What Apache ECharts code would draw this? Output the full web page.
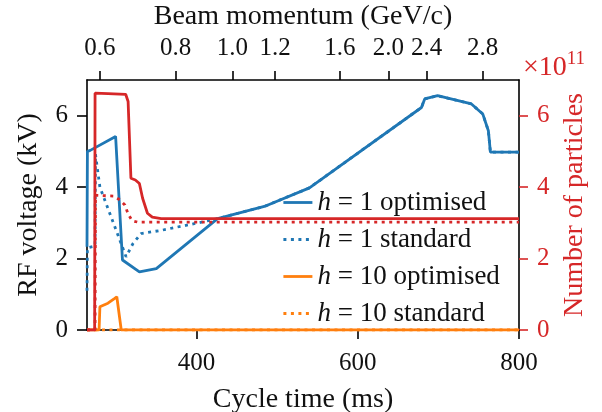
<!DOCTYPE html>
<html>
<head>
<meta charset="utf-8">
<script src="https://cdn.jsdelivr.net/npm/echarts@6/dist/echarts.min.js"></script>
<style>html,body{margin:0;padding:0;background:#fff}#c{width:602px;height:412px}</style>
</head>
<body>
<div id="c"></div>
<script>
// ---------- data ----------
const timeTicks = [400, 600, 800];
const kvTicks = [0, 2, 4, 6];
const particleTicks = [0, 2, 4, 6];
const momentumLabels = ['0.6', '0.8', '1.0', '1.2', '1.6', '2.0', '2.4', '2.8'];
const momentumTickTimes = [280.1, 374.1, 444.3, 497.3, 577.9, 637.8, 685.5, 755.0];

// h = 1 optimised (kV)
const h1OptTime = [264, 264.5, 268, 299.5, 308, 329, 350, 426, 484, 540, 679, 683, 699, 741, 755, 762, 764.5, 800];
const h1OptKv   = [2.33, 5.0, 5.03, 5.42, 1.96, 1.63, 1.72, 3.12, 3.46, 3.98, 6.23, 6.47, 6.56, 6.33, 6.05, 5.58, 4.98, 4.98];
// h = 1 standard (kV)
const h1StdTime = [264, 264.5, 274, 274.5, 280, 312.5, 321, 331, 356, 406, 426, 484, 540, 679, 683, 699, 741, 755, 762, 764.5, 800];
const h1StdKv   = [1.1, 2.3, 2.35, 4.92, 4.0, 2.05, 2.42, 2.7, 2.79, 3.02, 3.12, 3.46, 3.98, 6.23, 6.47, 6.56, 6.33, 6.05, 5.58, 4.98, 4.98];
// h = 10 optimised (kV)
const h10OptTime = [264, 279, 280, 290, 298, 301, 306.5, 800];
const h10OptKv   = [0, 0, 0.65, 0.75, 0.88, 0.93, 0, 0];
// h = 10 standard (kV)
const h10StdTime = [264, 800];
const h10StdKv   = [0, 0];
// number of particles, optimised (x1e11)
const npOptTime = [264, 273.5, 274, 290, 312, 315, 318.5, 324, 329, 333, 339, 345, 356, 800];
const npOptE11  = [0, 0, 6.63, 6.62, 6.6, 6.4, 4.25, 4.2, 4.1, 3.69, 3.27, 3.16, 3.12, 3.12];
// number of particles, standard (x1e11)
const npStdTime = [264, 274, 274.5, 297, 305, 311, 315, 320, 327, 800];
const npStdE11  = [0, 0, 3.77, 3.75, 3.64, 3.5, 3.25, 3.06, 3.02, 3.02];

// ---------- chart ----------
const zip = (a, b) => a.map((v, i) => [v, b[i]]);
const FONT = 'Liberation Serif';
const BLUE = '#1f77b4', ORANGE = '#ff7f0e', RED = '#d62728', TXT = '#111';
const DOT = [3, 4.5];
const LW = 2.8;

const chart = echarts.init(document.getElementById('c'), null, {renderer: 'canvas'});
const legendNames = ['h = 1 optimised', 'h = 1 standard', 'h = 10 optimised', 'h = 10 standard'];

function line(name, data, color, dotted, yIdx) {
  return {
    name, type: 'line', data, yAxisIndex: yIdx, xAxisIndex: 0,
    showSymbol: false, symbol: 'none', animation: false,
    lineStyle: {color, width: LW, type: dotted ? DOT : 'solid', cap: 'butt'},
    itemStyle: {color}
  };
}

chart.setOption({
  animation: false,
  grid: {left: 87, right: 83, top: 80, bottom: 82, containLabel: false, outerBoundsMode: 'none'},
  legend: {
    data: legendNames,
    orient: 'vertical', left: 282, top: 189, padding: 0,
    itemWidth: 29, itemHeight: 14, itemGap: 10,
    itemStyle: {opacity: 0},
    lineStyle: {width: LW},
    textStyle: {fontFamily: FONT, fontSize: 27, color: TXT, lineHeight: 27,
      rich: {i: {fontFamily: FONT, fontStyle: 'italic', fontSize: 27, color: TXT}}},
    formatter: n => '{i|h}' + n.slice(1),
    selectedMode: false
  },
  xAxis: [
    {
      type: 'value', position: 'bottom', min: 264, max: 800,
      axisLine: {onZero: false, lineStyle: {color: '#000', width: 1.6}},
      axisTick: {customValues: timeTicks, length: 9, lineStyle: {color: '#000', width: 1.6}},
      axisLabel: {customValues: timeTicks, fontFamily: FONT, fontSize: 25, color: TXT, margin: 21},
      splitLine: {show: false},
      name: 'Cycle time (ms)', nameLocation: 'middle', nameGap: 56,
      nameTextStyle: {fontFamily: FONT, fontSize: 28, color: TXT}
    },
    {
      type: 'value', position: 'top', min: 264, max: 800,
      axisLine: {onZero: false, lineStyle: {color: '#000', width: 1.6}},
      axisTick: {customValues: momentumTickTimes, length: 9, lineStyle: {color: '#000', width: 1.6}},
      axisLabel: {customValues: momentumTickTimes, fontFamily: FONT, fontSize: 25, color: TXT, margin: 19,
        formatter: v => {
          let best = 0;
          momentumTickTimes.forEach((t, i) => { if (Math.abs(t - v) < Math.abs(momentumTickTimes[best] - v)) best = i; });
          return momentumLabels[best];
        }},
      splitLine: {show: false},
      name: 'Beam momentum (GeV/c)', nameLocation: 'middle', nameGap: 49,
      nameTextStyle: {fontFamily: FONT, fontSize: 28, color: TXT}
    }
  ],
  yAxis: [
    {
      type: 'value', position: 'left', min: 0, max: 7,
      axisLine: {show: true, onZero: false, lineStyle: {color: '#000', width: 1.6}},
      axisTick: {show: true, customValues: kvTicks, length: 10, lineStyle: {color: '#000', width: 1.6}},
      axisLabel: {customValues: kvTicks, fontFamily: FONT, fontSize: 25, color: TXT, margin: 19},
      splitLine: {show: false},
      name: 'RF voltage (kV)', nameLocation: 'middle', nameGap: 44, nameRotate: 90,
      nameTextStyle: {fontFamily: FONT, fontSize: 28, color: TXT}
    },
    {
      type: 'value', position: 'right', min: 0, max: 7,
      axisLine: {show: true, onZero: false, lineStyle: {color: '#000', width: 1.6}},
      axisTick: {show: true, customValues: particleTicks, length: 9, lineStyle: {color: RED, width: 1.6}},
      axisLabel: {customValues: particleTicks, fontFamily: FONT, fontSize: 25, color: RED, margin: 18},
      splitLine: {show: false},
      name: 'Number of particles', nameLocation: 'middle', nameGap: 42, nameRotate: 90,
      nameTextStyle: {fontFamily: FONT, fontSize: 28, color: RED}
    }
  ],
  graphic: [{
    type: 'text', left: 523, top: 50,
    style: {
      text: '{a|×10}{s|11}',
      rich: {
        a: {fontFamily: FONT, fontSize: 28, fill: RED, color: RED},
        s: {fontFamily: FONT, fontSize: 19, fill: RED, color: RED, verticalAlign: 'top', padding: [0, 0, 16, 0]}
      }
    }
  }],
  series: [
    line(legendNames[0], zip(h1OptTime, h1OptKv), BLUE, false, 0),
    line(legendNames[1], zip(h1StdTime, h1StdKv), BLUE, true, 0),
    line(legendNames[2], zip(h10OptTime, h10OptKv), ORANGE, false, 0),
    line(legendNames[3], zip(h10StdTime, h10StdKv), ORANGE, true, 0),
    line('particles optimised', zip(npOptTime, npOptE11), RED, false, 1),
    line('particles standard', zip(npStdTime, npStdE11), RED, true, 1)
  ]
});
</script>
</body>
</html>
